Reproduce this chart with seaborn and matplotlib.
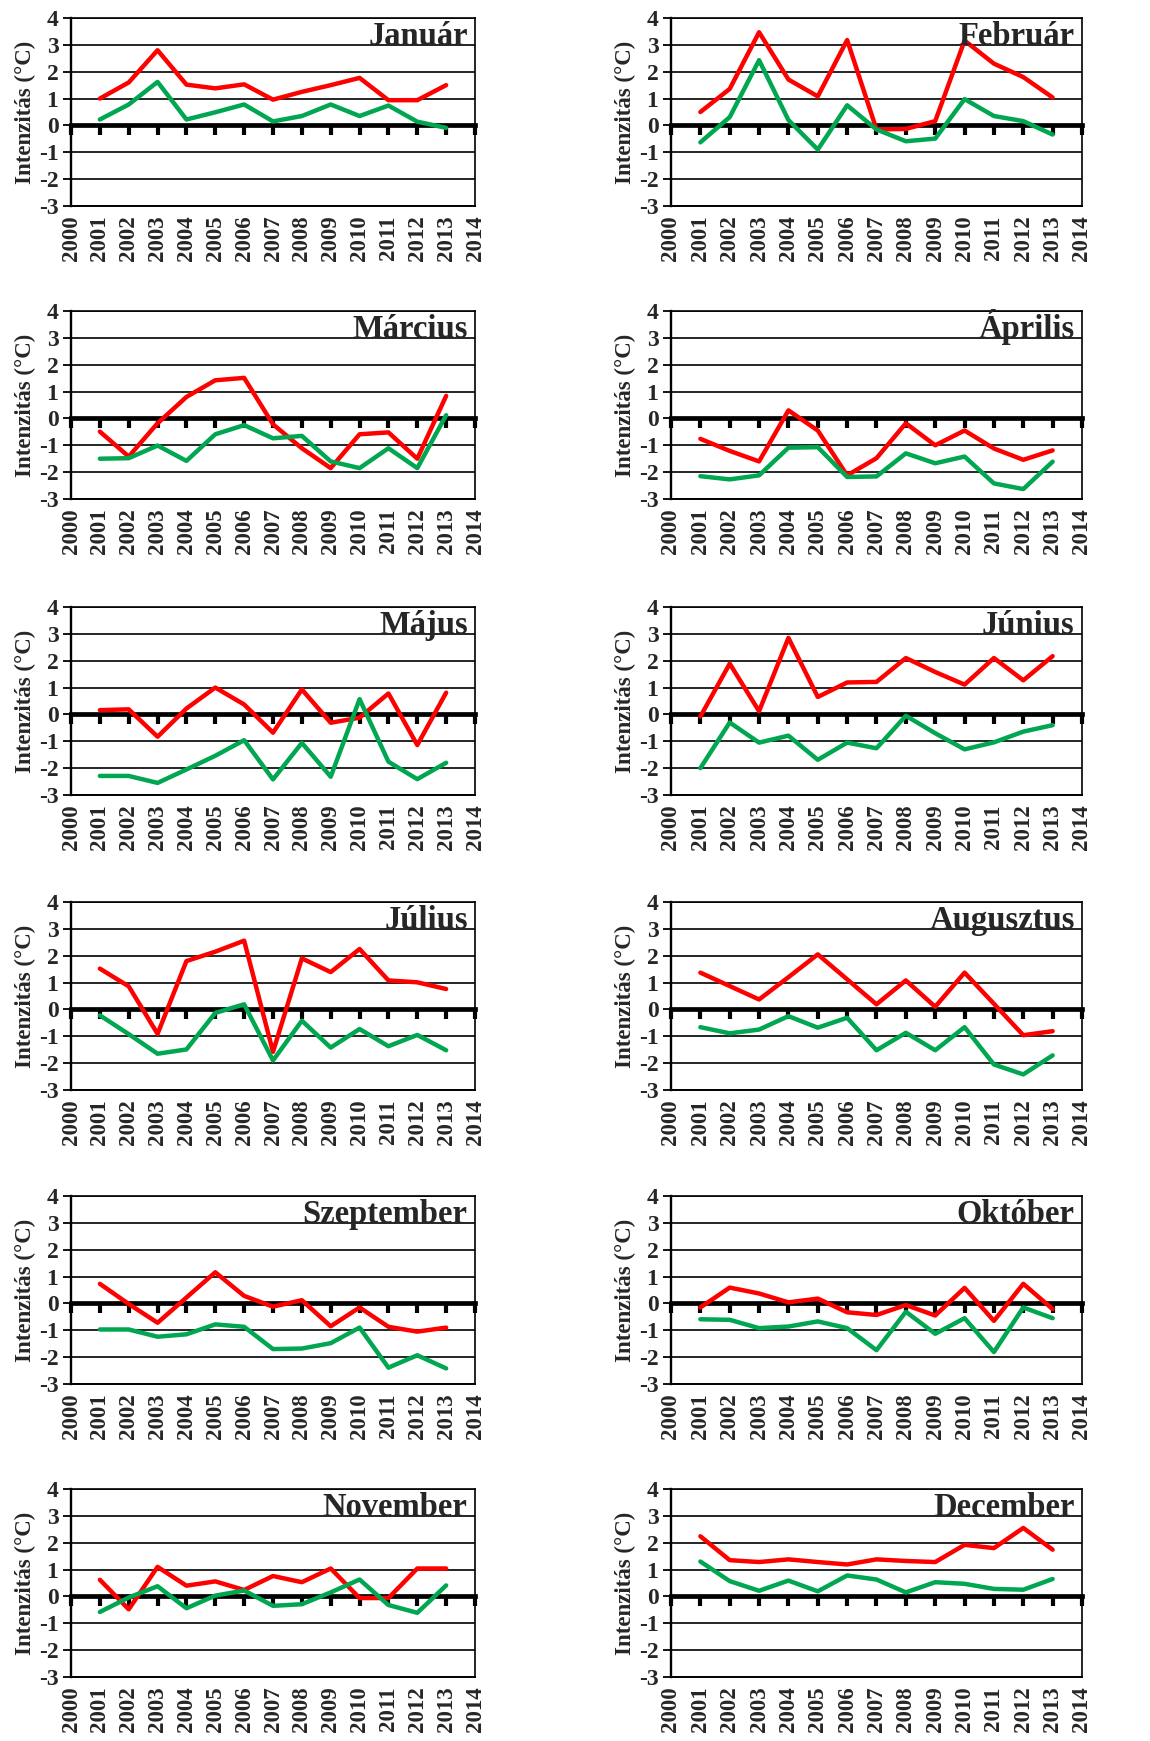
import numpy as np
import pandas as pd
import matplotlib
matplotlib.use("Agg")
import matplotlib.pyplot as plt
import seaborn as sns

years = list(range(2001, 2014))
xticks = list(range(2000, 2015))
yticks = list(range(-3, 5))

months = ["Január", "Február", "Március", "Április", "Május", "Június",
          "Július", "Augusztus", "Szeptember", "Október", "November", "December"]

jan_red = [1.0, 1.6, 2.8, 1.52, 1.38, 1.53, 0.96, 1.25, 1.5, 1.77, 0.94, 0.94, 1.5]
jan_green = [0.22, 0.78, 1.62, 0.22, 0.49, 0.78, 0.15, 0.35, 0.78, 0.35, 0.74, 0.14, -0.09]
feb_red = [0.5, 1.36, 3.47, 1.71, 1.08, 3.18, -0.15, -0.13, 0.16, 3.16, 2.3, 1.8, 1.04]
feb_green = [-0.63, 0.31, 2.43, 0.2, -0.9, 0.75, -0.15, -0.59, -0.49, 0.98, 0.35, 0.16, -0.34]
mar_red = [-0.49, -1.42, -0.18, 0.8, 1.42, 1.51, -0.22, -1.11, -1.85, -0.59, -0.52, -1.5, 0.84]
mar_green = [-1.5, -1.48, -1.01, -1.58, -0.59, -0.25, -0.74, -0.65, -1.6, -1.85, -1.11, -1.85, 0.12]
apr_red = [-0.76, -1.21, -1.6, 0.3, -0.45, -2.12, -1.48, -0.18, -1.0, -0.45, -1.12, -1.54, -1.19]
apr_green = [-2.15, -2.27, -2.12, -1.09, -1.07, -2.18, -2.16, -1.3, -1.67, -1.42, -2.42, -2.63, -1.61]
maj_red = [0.16, 0.19, -0.83, 0.22, 1.0, 0.37, -0.68, 0.93, -0.31, -0.12, 0.78, -1.14, 0.81]
maj_green = [-2.29, -2.29, -2.55, -2.05, -1.54, -0.96, -2.42, -1.06, -2.32, 0.57, -1.76, -2.41, -1.8]
jun_red = [-0.08, 1.89, 0.12, 2.85, 0.65, 1.19, 1.21, 2.1, 1.58, 1.11, 2.1, 1.27, 2.17]
jun_green = [-2.0, -0.3, -1.05, -0.79, -1.69, -1.05, -1.26, -0.05, -0.7, -1.3, -1.04, -0.64, -0.4]
jul_red = [1.52, 0.86, -0.91, 1.8, 2.15, 2.56, -1.58, 1.9, 1.39, 2.25, 1.08, 1.01, 0.76]
jul_green = [-0.22, -0.92, -1.65, -1.49, -0.13, 0.19, -1.9, -0.42, -1.42, -0.73, -1.37, -0.95, -1.52]
aug_red = [1.37, 0.87, 0.37, 1.2, 2.05, 1.12, 0.19, 1.08, 0.1, 1.37, 0.21, -0.96, -0.81]
aug_green = [-0.66, -0.89, -0.75, -0.25, -0.68, -0.31, -1.52, -0.87, -1.52, -0.66, -2.05, -2.42, -1.71]
sep_red = [0.73, -0.02, -0.72, 0.22, 1.16, 0.28, -0.12, 0.12, -0.85, -0.15, -0.87, -1.05, -0.9]
sep_green = [-0.97, -0.97, -1.24, -1.15, -0.78, -0.87, -1.7, -1.68, -1.48, -0.9, -2.39, -1.93, -2.42]
okt_red = [-0.15, 0.59, 0.37, 0.04, 0.18, -0.33, -0.43, -0.06, -0.45, 0.58, -0.65, 0.73, -0.21]
okt_green = [-0.59, -0.61, -0.92, -0.86, -0.67, -0.92, -1.74, -0.31, -1.13, -0.55, -1.81, -0.15, -0.55]
nov_red = [0.62, -0.48, 1.1, 0.4, 0.56, 0.24, 0.76, 0.53, 1.04, -0.06, -0.06, 1.04, 1.04]
nov_green = [-0.58, -0.04, 0.38, -0.44, 0.03, 0.22, -0.35, -0.29, 0.15, 0.63, -0.32, -0.61, 0.41]
dec_red = [2.24, 1.35, 1.28, 1.38, 1.28, 1.19, 1.38, 1.32, 1.28, 1.92, 1.8, 2.55, 1.74]
dec_green = [1.3, 0.57, 0.21, 0.59, 0.19, 0.78, 0.63, 0.15, 0.53, 0.47, 0.28, 0.25, 0.65]

red_series = [jan_red, feb_red, mar_red, apr_red, maj_red, jun_red,
              jul_red, aug_red, sep_red, okt_red, nov_red, dec_red]
green_series = [jan_green, feb_green, mar_green, apr_green, maj_green, jun_green,
                jul_green, aug_green, sep_green, okt_green, nov_green, dec_green]

RED = "#ff0000"
GREEN = "#00a650"

sns.set_style("white")
plt.rcParams["font.family"] = ["Liberation Serif", "DejaVu Serif"]
plt.rcParams["font.weight"] = "bold"

W, H = 1150, 1741
fig = plt.figure(figsize=(W / 100, H / 100), dpi=100)

row_tops = [18, 311, 607, 902, 1196, 1489]
ax_h = 188

for i, name in enumerate(months):
    row, col = divmod(i, 2)
    left_px = 71 if col == 0 else 671
    width_px = 404 if col == 0 else 411
    top_px = row_tops[row]
    ax = fig.add_axes([left_px / W, 1 - (top_px + ax_h) / H, width_px / W, ax_h / H])

    df = pd.DataFrame({
        "year": years + years,
        "value": red_series[i] + green_series[i],
        "series": ["max"] * len(years) + ["min"] * len(years),
    })
    sns.lineplot(data=df, x="year", y="value", hue="series",
                 palette={"max": RED, "min": GREEN}, linewidth=3.2,
                 legend=False, ax=ax, zorder=5)

    ax.set_xlim(2000, 2014)
    ax.set_ylim(-3, 4)
    ax.set_yticks(yticks)
    ax.set_yticklabels([str(v) for v in yticks], fontsize=17, fontweight="bold")
    ax.yaxis.grid(True, color="black", linewidth=1.2)
    ax.xaxis.grid(False)
    ax.set_axisbelow(True)

    for s in ["left", "top", "right"]:
        ax.spines[s].set_visible(True)
        ax.spines[s].set_color("black")
    ax.spines["left"].set_linewidth(1.7)
    ax.spines["top"].set_linewidth(1.2)
    ax.spines["right"].set_linewidth(1.2)
    ax.spines["bottom"].set_position(("data", 0))
    ax.spines["bottom"].set_linewidth(3.4)
    ax.spines["bottom"].set_color("black")
    ax.spines["bottom"].set_zorder(4)

    ax.set_xticks(xticks)
    ax.tick_params(axis="x", direction="out", length=7, width=3, color="black",
                   labelbottom=False, bottom=True)
    ax.tick_params(axis="y", direction="out", length=6, width=1.3, color="black",
                   left=True, pad=3)

    sec = ax.secondary_xaxis("bottom")
    sec.set_xticks(xticks)
    sec.set_xticklabels([str(v) for v in xticks], rotation=90,
                        fontsize=16.5, fontweight="bold")
    sec.tick_params(length=0, pad=7)
    sec.spines["bottom"].set_linewidth(1.4)
    sec.spines["bottom"].set_color("black")

    ax.set_xlabel("")
    ax.set_ylabel("Intenzitás (°C)", fontsize=16.5, fontweight="bold", labelpad=2)

    ax.text(0.982, 6 / 7, name, transform=ax.transAxes, ha="right", va="baseline",
            fontsize=23.5, fontweight="bold", zorder=6)

fig.savefig("out.png", dpi=100, facecolor="white")
